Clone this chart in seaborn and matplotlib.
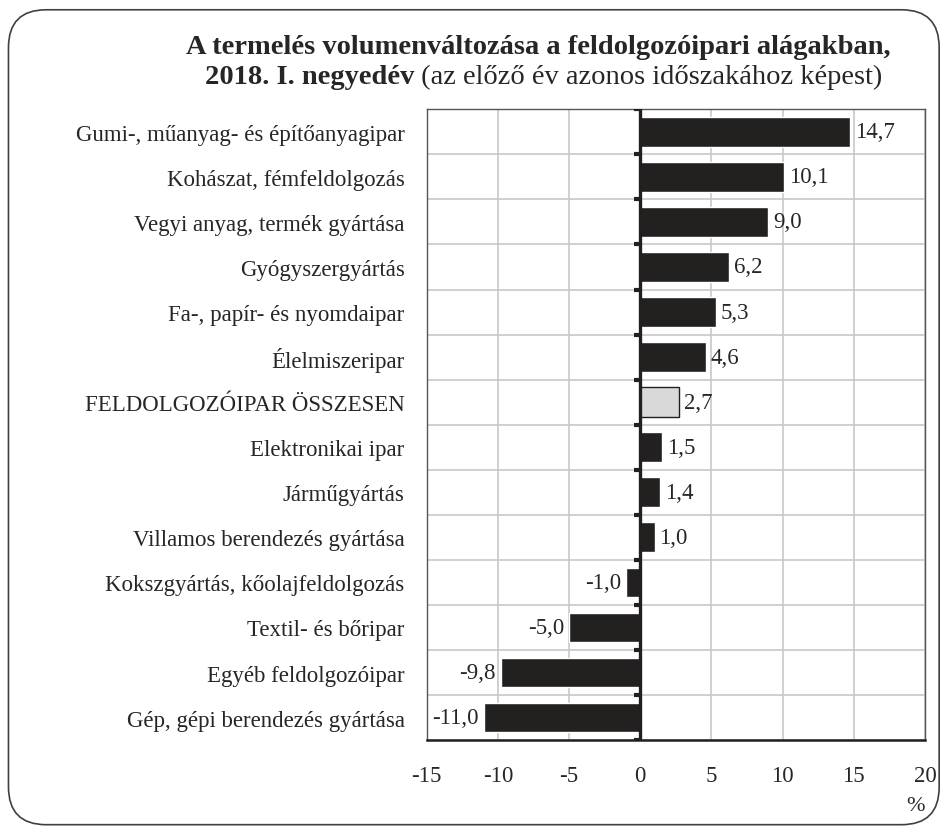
import matplotlib
matplotlib.use("Agg")
import matplotlib.pyplot as plt
from matplotlib.colors import to_hex
from matplotlib.patches import FancyBboxPatch
import seaborn as sns
import pandas as pd

categories = [
    "Gumi-, műanyag- és építőanyagipar",
    "Kohászat, fémfeldolgozás",
    "Vegyi anyag, termék gyártása",
    "Gyógyszergyártás",
    "Fa-, papír- és nyomdaipar",
    "Élelmiszeripar",
    "FELDOLGOZÓIPAR ÖSSZESEN",
    "Elektronikai ipar",
    "Járműgyártás",
    "Villamos berendezés gyártása",
    "Kokszgyártás, kőolajfeldolgozás",
    "Textil- és bőripar",
    "Egyéb feldolgozóipar",
    "Gép, gépi berendezés gyártása",
]
values = [14.7, 10.1, 9.0, 6.2, 5.3, 4.6, 2.7, 1.5, 1.4, 1.0, -1.0, -5.0, -9.8, -11.0]
groups = ["ág"] * 6 + ["összesen"] + ["ág"] * 7
x_ticks = [-15, -10, -5, 0, 5, 10, 15, 20]

df = pd.DataFrame({"kategoria": categories, "valtozas": values, "csoport": groups})

sns.set_style("white")
plt.rcParams["font.family"] = ["Liberation Serif", "DejaVu Serif"]

fig = plt.figure(figsize=(9.42, 8.29), dpi=100)
ax = fig.add_axes([0.453, 0.106, 0.529, 0.761])

sns.barplot(data=df, y="kategoria", x="valtozas", hue="csoport",
            palette={"ág": "#231f20", "összesen": "#d9d9d9"},
            dodge=False, width=0.66, legend=False, ax=ax, zorder=3)

# a szürke oszlop fekete kerettel
for bar in ax.patches:
    if to_hex(bar.get_facecolor()) == "#d9d9d9":
        bar.set_edgecolor("#231f20")
        bar.set_linewidth(1.0)

ax.set_xlim(-15, 20)
ax.set_ylim(len(categories) - 0.5, -0.5)
ax.set_xticks(x_ticks)
ax.set_xticklabels([str(t) for t in x_ticks], fontsize=16.5)
ax.set_xlabel("")
ax.set_ylabel("")
ax.tick_params(axis="y", length=0, labelsize=16.5, pad=16)
ax.tick_params(axis="x", length=5, color="#888888", pad=13)

# rács
ax.set_yticks([i + 0.5 for i in range(-1, len(categories))], minor=True)
ax.tick_params(axis="y", which="minor", length=0)
ax.grid(True, axis="x", color="#c8c8c8", linewidth=1.2, zorder=0)
ax.grid(True, axis="y", which="minor", color="#c8c8c8", linewidth=1.2, zorder=0)
ax.set_axisbelow(True)

for s in ["left", "right", "top"]:
    ax.spines[s].set_color("#555555")
    ax.spines[s].set_linewidth(1.0)
ax.spines["bottom"].set_color("#231f20")
ax.spines["bottom"].set_linewidth(1.8)

# nulla vonal és apró jelek
ax.axvline(0, color="#231f20", linewidth=2.4, zorder=4)
for yb in [i + 0.5 for i in range(-1, len(categories))]:
    ax.plot([-0.45, 0], [yb, yb], color="#231f20", linewidth=3, zorder=4,
            solid_capstyle="butt")

# értékcímkék
for i, v in enumerate(values):
    txt = f"{v:.1f}".replace(".", ",")
    if v >= 0:
        ax.text(v + 0.35, i, txt, va="center", ha="left", fontsize=16.5, zorder=5)
    else:
        ax.text(v - 0.35, i, txt, va="center", ha="right", fontsize=16.5, zorder=5)

fig.text(0.972, 0.022, "%", ha="center", fontsize=16)

# cím
fig.text(0.571, 0.935, "A termelés volumenváltozása a feldolgozóipari alágakban,",
         ha="center", fontsize=20.5, fontweight="bold")
r = fig.canvas.get_renderer()
t1 = fig.text(0, 0.899, "2018. I. negyedév", fontsize=20.5, fontweight="bold")
t2 = fig.text(0, 0.899, " (az előző év azonos időszakához képest)", fontsize=20.5)
w1 = t1.get_window_extent(r).width / fig.bbox.width
w2 = t2.get_window_extent(r).width / fig.bbox.width
x0 = 0.577 - (w1 + w2) / 2
t1.set_x(x0)
t2.set_x(x0 + w1)

# lekerekített keret
frame = FancyBboxPatch((0.009, 0.004), 0.988, 0.983,
                       boxstyle="round,pad=0,rounding_size=0.04",
                       transform=fig.transFigure, fill=False,
                       edgecolor="#404040", linewidth=1.2, mutation_aspect=942 / 829)
fig.patches.append(frame)

fig.savefig("out.png", dpi=100)
